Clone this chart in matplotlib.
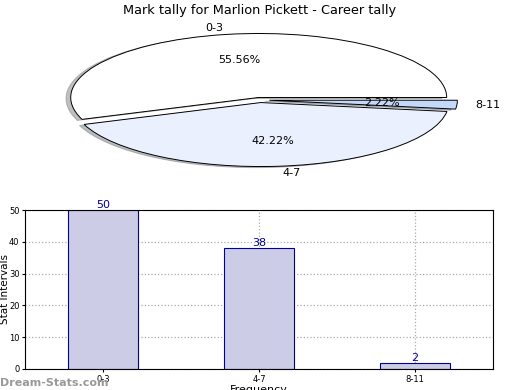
import numpy as np
import matplotlib
matplotlib.use('Agg')
import matplotlib.pyplot as plt

# datos
categorias = ['0-3', '4-7', '8-11']
valores = [50, 38, 2]
colores_pie = ['#ffffff', '#eaf0fe', '#c4d8fa']
explode = [0.04, 0.04, 0.05]

titulo = 'Mark tally for Marlion Pickett - Career tally'

fig = plt.figure(figsize=(5.2, 3.9), dpi=100)

# pie aplastado arriba
ax1 = fig.add_axes([0, 1 - 180/390, 1, 160/390])
ax1.pie(valores, labels=categorias, colors=colores_pie, explode=explode,
        autopct='%.2f%%', startangle=0,
        shadow={'ox': -0.018, 'oy': -0.012, 'shade': 0.5},
        wedgeprops={'edgecolor': 'black', 'linewidth': 0.7},
        textprops={'fontsize': 8})
ax1.set_aspect('auto')
ax1.set_xlim(-1.383, 1.383)
ax1.set_ylim(-1.25, 1.25)
fig.suptitle(titulo, y=0.99, fontsize=9.3)

# barras abajo
ax2 = fig.add_axes([25/520, 1 - 369/390, 468/520, 159/390])
x = np.arange(len(categorias))
barras = ax2.bar(x, valores, width=0.45, color='#ccccE6', edgecolor='#000099', linewidth=0.8)
for b, v in zip(barras, valores):
    ax2.text(b.get_x() + b.get_width()/2, v, str(v), ha='center', va='bottom',
             color='#000099', fontsize=8)
ax2.set_xlim(-0.5, 2.5)
ax2.set_ylim(0, 50)
ax2.set_xticks(x)
ax2.set_xticklabels(categorias)
ax2.set_yticks(range(0, 51, 10))
ax2.tick_params(labelsize=6, length=2, pad=2)
ax2.grid(True, linestyle=':', color='#aaaaaa', linewidth=0.9)
ax2.set_axisbelow(True)
ax2.set_ylabel('Stat Intervals', fontsize=7.5)
ax2.yaxis.set_label_coords(-0.032, 0.5)
ax2.set_xlabel('Frequency', fontsize=8, labelpad=1)

fig.text(0.0, 0.01, 'Dream-Stats.com', fontsize=8, color='#999999', fontweight='bold')

fig.savefig('out.png', dpi=100)
